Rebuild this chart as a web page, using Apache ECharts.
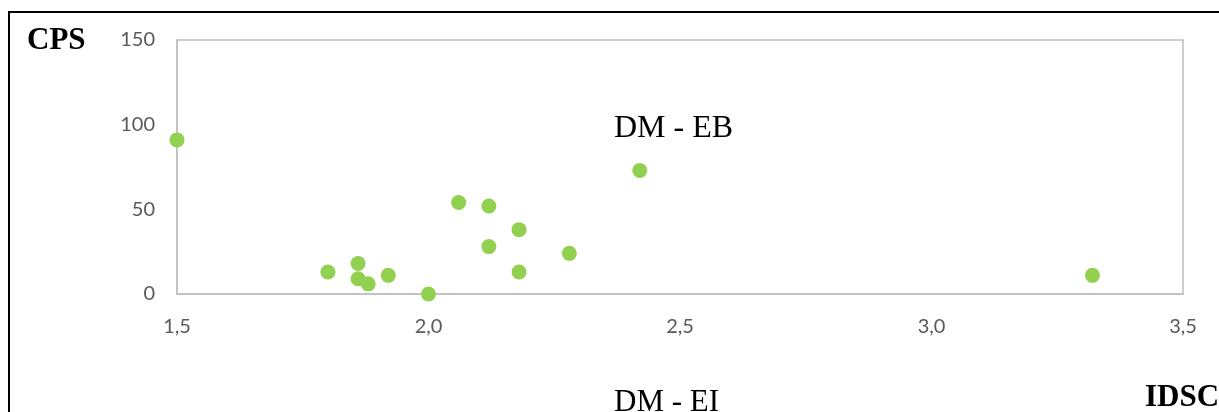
<!DOCTYPE html>
<html>
<head>
<meta charset="utf-8">
<script src="https://cdn.jsdelivr.net/npm/echarts@6/dist/echarts.min.js"></script>
<style>
  html, body { margin: 0; padding: 0; background: #ffffff; }
  #chart { width: 1219px; height: 412px; }
</style>
</head>
<body>
<div id="chart"></div>
<script>
// IDSC (x) against CPS (y) for each observation
const idsc = [1.50, 1.80, 1.86, 1.86, 1.88, 1.92, 2.00, 2.06, 2.12, 2.12, 2.18, 2.18, 2.28, 2.42, 3.32];
const cps  = [91,   13,   18,   9,    6,    11,   0,    54,   52,   28,   38,   13,   24,   73,   11];

const xTicks = { min: 1.5, max: 3.5, interval: 0.5 };
const yTicks = { min: 0, max: 150, interval: 50 };

const points = idsc.map((x, i) => [x, cps[i]]);

const chart = echarts.init(document.getElementById('chart'), null, { renderer: 'canvas' });

const tickFont = { color: '#595959', fontFamily: 'Lato', fontSize: 20 };
const serif = 'Liberation Serif';

chart.setOption({
  animation: false,
  backgroundColor: '#ffffff',
  grid: {
    left: 177, right: 36, top: 40, bottom: 118,
    show: true, borderColor: '#bfbfbf', borderWidth: 1.5, containLabel: false
  },
  xAxis: {
    type: 'value',
    min: xTicks.min, max: xTicks.max, interval: xTicks.interval,
    axisLine: { show: true, lineStyle: { color: '#bfbfbf', width: 1.5 } },
    axisTick: { show: false },
    splitLine: { show: false },
    axisLabel: Object.assign({ margin: 23, formatter: v => v.toFixed(1).replace('.', ',') }, tickFont)
  },
  yAxis: {
    type: 'value',
    min: yTicks.min, max: yTicks.max, interval: yTicks.interval,
    axisLine: { show: true, lineStyle: { color: '#bfbfbf', width: 1.5 } },
    axisTick: { show: false },
    splitLine: { show: false },
    axisLabel: Object.assign({ margin: 22 }, tickFont)
  },
  series: [{
    type: 'scatter',
    data: points,
    symbol: 'circle',
    symbolSize: 15,
    itemStyle: { color: '#92d050', opacity: 1 }
  }],
  graphic: [
    {
      type: 'rect', silent: true, z: -1,
      shape: { x: 9, y: 12, width: 1400, height: 600 },
      style: { fill: null, stroke: '#000000', lineWidth: 2 }
    },
    {
      type: 'text', left: 27, top: 25,
      style: { text: 'CPS', fontFamily: serif, fontWeight: 'bold', fontSize: 31, fill: '#000000' }
    },
    {
      type: 'text', left: 614, top: 113,
      style: { text: 'DM - EB', fontFamily: serif, fontSize: 32, fill: '#000000' }
    },
    {
      type: 'text', left: 614, top: 387,
      style: { text: 'DM - EI', fontFamily: serif, fontSize: 31, fill: '#000000' }
    },
    {
      type: 'text', left: 1145, top: 382,
      style: { text: 'IDSC', fontFamily: serif, fontWeight: 'bold', fontSize: 31, fill: '#000000' }
    }
  ]
});
</script>
</body>
</html>
